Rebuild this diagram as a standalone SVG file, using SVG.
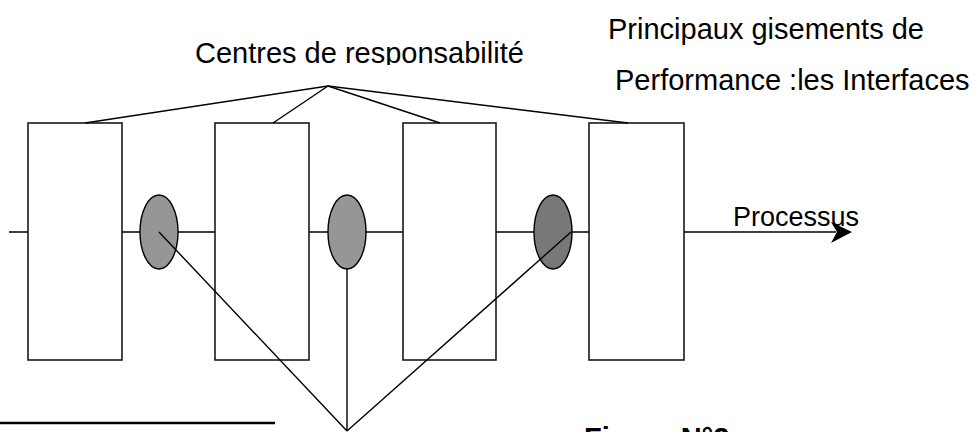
<svg xmlns="http://www.w3.org/2000/svg" width="975" height="432" viewBox="0 0 975 432">
  <defs>
    <style>
      .lbl { font-family: "Liberation Sans", Arial, sans-serif; font-size: 29px; fill: #000; }
      .bold { font-weight: bold; }
      .box { fill: #fff; stroke: #1a1a1a; stroke-width: 1.6; }
      .iface { stroke: #000; stroke-width: 1.4; }
      .ln { fill: none; stroke: #000; stroke-width: 1.4; }
    </style>
    <clipPath id="clipCentres"><rect x="180" y="30" width="360" height="35"/></clipPath>
    <clipPath id="clipPerf"><rect x="600" y="60" width="375" height="30"/></clipPath>
    <clipPath id="clipProc"><rect x="720" y="195" width="150" height="33"/></clipPath>
  </defs>

  <!-- process flow line (behind the boxes) -->
  <g id="connectors-flow">
    <line class="ln" x1="9" y1="232" x2="836" y2="232"/>
    <path d="M852,232 L831,222 L837,232 L831,243 Z" fill="#000"/>
  </g>

  <!-- responsibility centres -->
  <g id="centre-1"><rect class="box" x="28" y="123" width="94" height="237"/></g>
  <g id="centre-2"><rect class="box" x="215" y="123" width="94" height="237"/></g>
  <g id="centre-3"><rect class="box" x="403" y="123" width="93" height="237"/></g>
  <g id="centre-4"><rect class="box" x="589" y="123" width="95" height="237"/></g>

  <!-- interfaces between centres -->
  <g id="interface-1"><ellipse class="iface" cx="159" cy="232" rx="19" ry="37" fill="#969696"/></g>
  <g id="interface-2"><ellipse class="iface" cx="347" cy="232" rx="19" ry="37" fill="#969696"/></g>
  <g id="interface-3"><ellipse class="iface" cx="553" cy="232" rx="19" ry="37" fill="#787878"/></g>

  <!-- connectors -->
  <g id="connectors">
    <line class="ln" x1="328" y1="86" x2="85" y2="123"/>
    <line class="ln" x1="328" y1="86" x2="273" y2="123"/>
    <line class="ln" x1="328" y1="86" x2="440" y2="123"/>
    <line class="ln" x1="328" y1="86" x2="628" y2="123"/>
    <line class="ln" x1="159" y1="232" x2="347" y2="431"/>
    <line class="ln" x1="347" y1="269" x2="347" y2="431"/>
    <line class="ln" x1="571" y1="232" x2="347" y2="431"/>
    <line x1="0" y1="423" x2="275" y2="423" stroke="#000" stroke-width="2.5"/>
  </g>

  <!-- labels -->
  <g id="label-centres">
    <text class="lbl" x="195" y="63" clip-path="url(#clipCentres)">Centres de responsabilité</text>
  </g>
  <g id="label-gisements">
    <text class="lbl" x="608" y="39">Principaux gisements de</text>
    <text class="lbl" x="615" y="90" clip-path="url(#clipPerf)">Performance :les Interfaces</text>
  </g>
  <g id="label-processus">
    <text class="lbl" x="733" y="226" font-size="27" style="font-size:27px" clip-path="url(#clipProc)">Processus</text>
  </g>
  <g id="label-figure">
    <text class="lbl bold" x="584" y="448">Figure N°2</text>
  </g>
</svg>
